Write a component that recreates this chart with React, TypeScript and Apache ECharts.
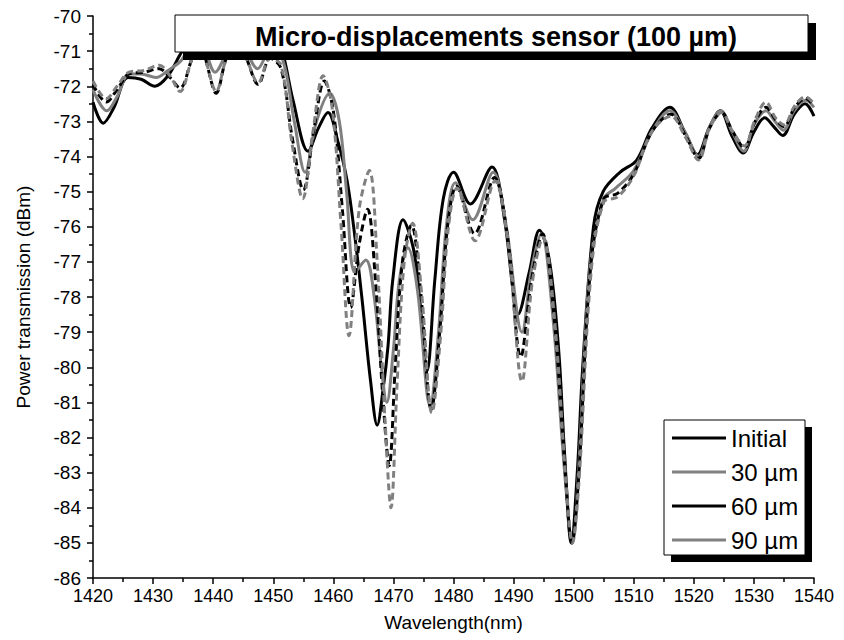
import React, { useEffect, useRef } from "react";
import * as echarts from "echarts";

const seriesNames = ["Initial", "30 µm", "60 µm", "90 µm"];

const initialX = [1420, 1421.7, 1423.5, 1425.8, 1428, 1430.3, 1432.5, 1434.5, 1436.5, 1438, 1440.5, 1443, 1447.5, 1450, 1451.5, 1453.3, 1455.8, 1457.5, 1459.1, 1460.8, 1462.3, 1463.6, 1464.8, 1466.2, 1467.3, 1468.3, 1469.1, 1469.9, 1471.6, 1473.3, 1474.4, 1475.6, 1476.9, 1478.3, 1480, 1482.8, 1486.4, 1488.5, 1489.9, 1490.7, 1492.6, 1494.3, 1496, 1497.5, 1498.5, 1499.6, 1500.6, 1501.5, 1503.3, 1504.9, 1507.7, 1510.5, 1513, 1516, 1518.5, 1520.6, 1522.5, 1524.4, 1526.3, 1528.2, 1530, 1531.8, 1533.3, 1534.8, 1536.7, 1538.5, 1540];
const initialY = [-72.45, -73.05, -72.6, -71.75, -71.8, -72.0, -71.7, -71.1, -70.6, -70.4, -70.7, -70.4, -70.6, -70.5, -71.0, -72.4, -73.85, -73.2, -72.75, -73.6, -74.7, -76.3, -78.1, -80.4, -81.65, -80.6, -79.4, -77.5, -75.8, -76.6, -78.1, -80.1, -77.5, -75.2, -74.45, -75.35, -74.3, -75.8, -77.8, -78.5, -77.3, -76.1, -77.0, -79.5, -82.5, -85.0, -83.0, -80.0, -76.0, -75.0, -74.45, -74.1, -73.2, -72.6, -73.3, -73.95, -73.2, -72.7, -73.4, -73.9, -73.3, -72.9, -73.15, -73.4, -72.8, -72.5, -72.85];

const um30X = [1420, 1422.3, 1424, 1426, 1428, 1430.5, 1432.5, 1434.5, 1436.5, 1438.5, 1440.3, 1442.5, 1444.5, 1447.4, 1449.5, 1451.5, 1453.5, 1455.3, 1457.2, 1459.4, 1461, 1462.2, 1463.6, 1465.4, 1466.8, 1468, 1468.9, 1470, 1471, 1472.4, 1474, 1476.1, 1477.5, 1478.8, 1480.3, 1483.2, 1486.6, 1488.8, 1491.4, 1493, 1494.6, 1496.5, 1498.5, 1499.8, 1500.8, 1502.7, 1505, 1507, 1510, 1513, 1516, 1518.5, 1520.8, 1522.5, 1524.5, 1526.4, 1528.3, 1530, 1532, 1533.5, 1534.9, 1536.7, 1538.6, 1540];
const um30Y = [-72.1, -72.7, -72.3, -71.65, -71.65, -71.75, -71.55, -71.3, -70.9, -71.0, -71.6, -71.0, -70.8, -71.5, -71.0, -71.2, -73.0, -74.45, -73.0, -72.2, -73.0, -75.0, -77.3, -76.95, -78.0, -80.0, -81.0, -79.5, -77.5, -76.6, -77.8, -81.1, -79.0, -76.0, -74.75, -75.8, -74.45, -76.0, -79.0, -77.2, -76.2, -78.5, -83.0, -85.0, -83.0, -77.2, -75.2, -74.9, -74.4, -73.3, -72.7, -73.3, -74.0, -73.2, -72.7, -73.3, -73.85, -73.1, -72.7, -73.0, -73.25, -72.7, -72.4, -72.6];

const um60X = [1420, 1422.2, 1424, 1426, 1428.5, 1431, 1432.8, 1434.5, 1436.3, 1437.8, 1439, 1440.5, 1442, 1443.5, 1445.5, 1447.5, 1449.5, 1451.3, 1453.2, 1455, 1456.8, 1458.5, 1460, 1461.5, 1462.9, 1464.3, 1465.7, 1467, 1468.3, 1469.3, 1470.3, 1471.5, 1473, 1474.5, 1476.3, 1477.8, 1479, 1480.5, 1483.5, 1486.8, 1489, 1491.2, 1493, 1494.8, 1496.7, 1498.6, 1499.7, 1500.8, 1502.8, 1505, 1507.3, 1510, 1513, 1516.2, 1518.6, 1520.8, 1522.6, 1524.6, 1526.5, 1528.4, 1530.2, 1532, 1533.6, 1535, 1536.8, 1538.6, 1540];
const um60Y = [-71.95, -72.45, -72.1, -71.65, -71.6, -71.5, -71.75, -72.05, -71.3, -70.6, -71.4, -72.2, -71.3, -70.6, -71.2, -71.95, -71.2, -71.5, -73.5, -74.95, -73.2, -71.85, -72.7, -75.5, -78.3, -76.5, -75.5, -77.5, -81.0, -82.8, -80.0, -77.0, -75.95, -77.8, -81.2, -78.8, -76.0, -74.85, -76.2, -74.6, -76.3, -79.7, -77.5, -76.2, -78.5, -83.0, -85.0, -83.2, -77.2, -75.2, -75.05, -74.5, -73.3, -72.8, -73.4, -74.05, -73.2, -72.75, -73.3, -73.75, -73.0, -72.6, -72.95, -73.15, -72.6, -72.35, -72.55];

const um90X = [1420, 1422.2, 1424, 1426, 1428.5, 1431, 1432.8, 1434.5, 1436.3, 1437.8, 1439, 1440.5, 1442, 1443.5, 1445.5, 1447.5, 1449.5, 1451.3, 1453.1, 1454.9, 1456.6, 1458.3, 1459.8, 1461.3, 1462.6, 1464.3, 1466, 1467.3, 1468.6, 1469.6, 1470.6, 1471.8, 1473.2, 1474.7, 1476.4, 1477.9, 1479.1, 1480.6, 1483.6, 1486.9, 1489.1, 1491.4, 1493.1, 1494.9, 1496.8, 1498.7, 1499.8, 1500.9, 1502.9, 1505, 1507.3, 1510, 1513, 1516.2, 1518.6, 1520.8, 1522.6, 1524.6, 1526.5, 1528.4, 1530.2, 1532, 1533.6, 1535, 1536.8, 1538.6, 1540];
const um90Y = [-71.85, -72.35, -72.0, -71.6, -71.55, -71.4, -71.7, -72.15, -71.3, -70.6, -71.4, -72.15, -71.3, -70.6, -71.2, -71.9, -71.2, -71.4, -73.6, -75.2, -73.3, -71.7, -72.6, -76.0, -79.1, -75.5, -74.4, -77.0, -81.5, -84.0, -80.5, -77.0, -75.9, -77.9, -81.3, -79.0, -76.1, -74.9, -76.4, -74.7, -76.5, -80.4, -77.6, -76.3, -78.6, -83.2, -85.0, -83.2, -77.3, -75.3, -75.15, -74.55, -73.3, -72.85, -73.45, -74.1, -73.2, -72.75, -73.3, -73.7, -72.95, -72.45, -72.9, -73.1, -72.55, -72.3, -72.5];

const xMin = 1420;
const xMax = 1540;
const yMin = -86;
const yMax = -70;

const titleText = "Micro-displacements sensor (100 µm)";

const FONT = "Liberation Sans";
const GRAY = "#808080";

function zip(xs: number[], ys: number[]) {
  return xs.map((x, i) => [x, ys[i]]);
}

export default function App() {
  const ref = useRef<HTMLDivElement>(null);
  useEffect(() => {
    if (!ref.current) return;
    const chart = echarts.init(ref.current, null, { renderer: "svg" });
    const lineBase = { type: "line", showSymbol: false, symbol: "none", smooth: 0.35, z: 3 };
    chart.setOption({
      animation: false,
      textStyle: { fontFamily: FONT },
      grid: { left: 93, right: 30, top: 16, bottom: 62, containLabel: false },
      xAxis: {
        type: "value",
        min: xMin,
        max: xMax,
        interval: 10,
        name: "Wavelength(nm)",
        nameLocation: "middle",
        nameGap: 35,
        nameTextStyle: { fontSize: 19, color: "#000", fontFamily: FONT },
        axisLine: { show: true, lineStyle: { color: "#000", width: 1.5 } },
        axisTick: { show: true, inside: false, length: 6, lineStyle: { color: "#000", width: 1.5 } },
        minorTick: { show: true, splitNumber: 2, length: 4, lineStyle: { color: "#000", width: 1.5 } },
        axisLabel: { color: "#000", fontSize: 18, margin: 9, fontFamily: FONT, formatter: (v: number) => String(v) },
        splitLine: { show: false },
      },
      yAxis: {
        type: "value",
        min: yMin,
        max: yMax,
        interval: 1,
        name: "Power transmission (dBm)",
        nameLocation: "middle",
        nameGap: 60,
        nameTextStyle: { fontSize: 19, color: "#000", fontFamily: FONT },
        axisLine: { show: true, lineStyle: { color: "#000", width: 1.5 } },
        axisTick: { show: true, inside: false, length: 6, lineStyle: { color: "#000", width: 1.5 } },
        minorTick: { show: true, splitNumber: 2, length: 4, lineStyle: { color: "#000", width: 1.5 } },
        axisLabel: { color: "#000", fontSize: 19, margin: 12, fontFamily: FONT, formatter: (v: number) => String(v) },
        splitLine: { show: false },
      },
      title: {
        text: titleText,
        left: 491,
        top: 18,
        textAlign: "center",
        z: 60,
        textStyle: { fontSize: 27, fontWeight: "bold", color: "#000", fontFamily: FONT },
      },
      legend: {
        orient: "vertical",
        left: 667,
        top: 421,
        z: 60,
        itemWidth: 54,
        itemHeight: 3,
        itemGap: 10,
        icon: "rect",
        data: seriesNames.map((n, i) => ({
          name: n,
          itemStyle: { color: i % 2 === 0 ? "#000" : GRAY },
        })),
        textStyle: { fontSize: 24, color: "#000", lineHeight: 24, fontFamily: FONT },
      },
      graphic: [
        { type: "rect", z: 50, shape: { x: 183, y: 23, width: 633, height: 37 }, style: { fill: "#000" } },
        { type: "rect", z: 51, shape: { x: 175, y: 15, width: 633, height: 37 }, style: { fill: "#fff", stroke: "#000", lineWidth: 1 } },
        { type: "rect", z: 50, shape: { x: 671, y: 427, width: 141, height: 135 }, style: { fill: "#000" } },
        { type: "rect", z: 51, shape: { x: 664, y: 420, width: 141, height: 135 }, style: { fill: "#fff", stroke: "#000", lineWidth: 1 } },
      ],
      series: [
        { ...lineBase, name: seriesNames[0], data: zip(initialX, initialY), lineStyle: { color: "#000", width: 3, type: "solid" }, itemStyle: { color: "#000" } },
        { ...lineBase, name: seriesNames[1], data: zip(um30X, um30Y), lineStyle: { color: GRAY, width: 3, type: "solid" }, itemStyle: { color: GRAY } },
        { ...lineBase, name: seriesNames[2], data: zip(um60X, um60Y), lineStyle: { color: "#000", width: 3, type: [7, 4] }, itemStyle: { color: "#000" } },
        { ...lineBase, name: seriesNames[3], data: zip(um90X, um90Y), lineStyle: { color: GRAY, width: 3, type: [7, 4] }, itemStyle: { color: GRAY } },
      ],
    });
    return () => chart.dispose();
  }, []);
  return <div ref={ref} style={{ width: 844, height: 640, position: "absolute", left: 0, top: 0 }} />;
}
